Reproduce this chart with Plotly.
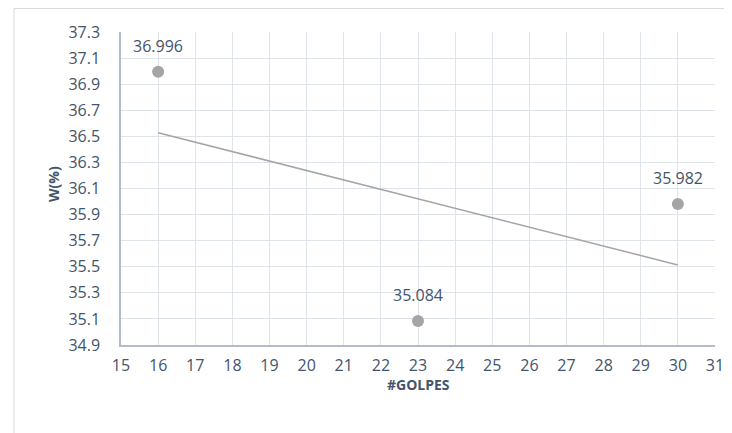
import numpy as np
import plotly.graph_objects as go

golpes = [16, 23, 30]
w_pct = [36.996, 35.084, 35.982]
labels = ["36.996", "35.084", "35.982"]
x_ticks = list(range(15, 32))
y_ticks = [round(34.9 + 0.2 * i, 1) for i in range(13)]

# page has an 8px body margin: figure drawn at (8,8)
W, H = 724, 425
L, R, T, B = 113, 707, 24, 337

# linear trendline (least squares), as Excel draws it over the data span
m, c = np.polyfit(golpes, w_pct, 1)
tx = [min(golpes), max(golpes)]
ty = [m * v + c for v in tx]

text_color = "#44546a"
font_family = "'Open Sans', sans-serif"

fig = go.Figure()
fig.add_trace(go.Scatter(x=tx, y=ty, mode="lines",
                         line=dict(color="#a5a5a5", width=1.5),
                         hoverinfo="skip", showlegend=False, cliponaxis=False))
fig.add_trace(go.Scatter(x=golpes, y=w_pct, mode="markers",
                         marker=dict(color="#a5a5a5", size=12),
                         showlegend=False, cliponaxis=False))

def px(x):
    return (x - L) / (R - L)

def py(y):
    return (B - y) / (B - T)

shapes = [
    # outer chart border
    dict(type="rect", xref="paper", yref="paper", x0=px(6), x1=px(740), y0=py(450), y1=py(0.5),
         line=dict(color="#d9d9d9", width=1), layer="below"),
]

annotations = [
    dict(text=t, x=xv, y=yv, xref="x", yref="y", showarrow=False,
         xanchor="center", yanchor="middle", yshift=26,
         font=dict(size=16, color=text_color, family=font_family))
    for xv, yv, t in zip(golpes, w_pct, labels)
]
annotations += [
    dict(text="<b>#GOLPES</b>", xref="paper", yref="paper", x=px(410), y=py(376),
         xanchor="center", yanchor="middle", showarrow=False,
         font=dict(size=14, color=text_color, family=font_family)),
    dict(text="<b>W(%)</b>", xref="paper", yref="paper", x=px(45), y=py(176),
         xanchor="center", yanchor="middle", showarrow=False, textangle=-90,
         font=dict(size=14, color=text_color, family=font_family)),
]

fig.update_layout(
    width=W, height=H,
    margin=dict(l=L, r=W - R, t=T, b=H - B),
    paper_bgcolor="white", plot_bgcolor="white",
    font=dict(family=font_family, color=text_color, size=16),
    shapes=shapes, annotations=annotations,
    xaxis=dict(range=[15, 31], tickvals=x_ticks, ticktext=[str(v) for v in x_ticks],
               showgrid=True, gridcolor="#dfe3ea", gridwidth=1,
               showline=True, linecolor="#b4bcc9", linewidth=1.5,
               zeroline=False, ticks="", ticklabelstandoff=5, automargin=False,
               tickfont=dict(size=16, color=text_color, family=font_family)),
    yaxis=dict(range=[34.9, 37.3], tickvals=y_ticks, ticktext=[f"{v:.1f}" for v in y_ticks],
               showgrid=True, gridcolor="#dfe3ea", gridwidth=1,
               showline=True, linecolor="#b4bcc9", linewidth=1.5,
               zeroline=False, ticks="", ticklabelstandoff=16, automargin=False,
               tickfont=dict(size=16, color=text_color, family=font_family)),
)

fig.write_html("out.html")
